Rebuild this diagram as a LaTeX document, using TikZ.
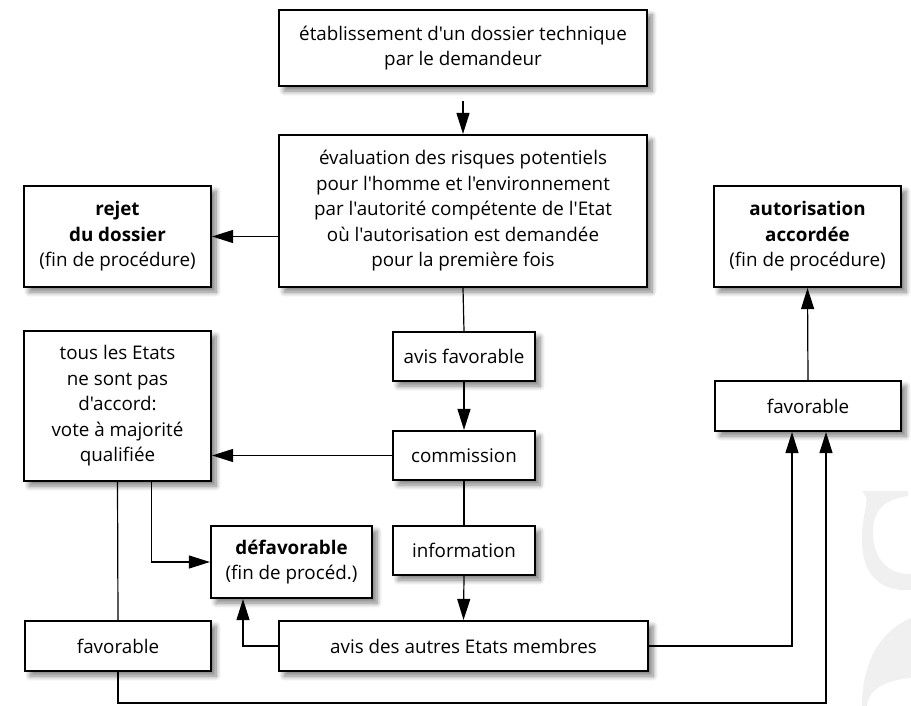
\documentclass[tikz,border=0pt]{standalone}
\usepackage{fontspec}
\setmainfont{Open Sans}[Ligatures=TeXOff]
\usetikzlibrary{arrows.meta,shadows,shadows.blur,calc}
\begin{document}
\begin{tikzpicture}[x=1pt,y=-1pt,
  box/.style={draw, line width=2.2pt, fill=white, align=center, inner sep=2pt,
    blur shadow={shadow xshift=5pt, shadow yshift=-5pt, shadow blur steps=8, shadow blur radius=5pt, shadow opacity=50},
    font=\fontsize{18.8}{25.5}\selectfont},
  conn/.style={line width=1.2pt},
  arr/.style={conn, -{Triangle[length=21pt,width=13pt]}},
  wm/.style={fill=black!6, draw=none}]
\useasboundingbox (0,0) rectangle (911,706);
% watermark
\fill[wm] (862,491) -- (908,491) -- (908,496) .. controls (890,499) and (874,505) .. (873,530)
  .. controls (872,560) and (890,575) .. (911,574) -- (911,590)
  .. controls (880,592) and (862,575) .. (862,540) .. controls (862,515) and (868,505) .. (866,497) -- cycle;
\fill[wm] (862,706) .. controls (862,660) and (882,630) .. (911,618) -- (911,678)
  .. controls (885,680) and (868,690) .. (867,706) -- cycle;
% boxes
\node[box, minimum width=368, minimum height=76] (top) at (463,48)
  {établissement d'un dossier technique\\par le demandeur};
\node[box, minimum width=368, minimum height=152] (mid) at (463,211)
  {évaluation des risques potentiels\\pour l'homme et l'environnement\\par l'autorité compétente de l'Etat\\où l'autorisation est demandée\\pour la première fois};
\node[box, minimum width=187, minimum height=101] (rejet) at (117.5,236.5)
  {\textbf{rejet}\\\textbf{du dossier}\\(fin de procédure)};
\node[box, minimum width=187, minimum height=101] (autor) at (807.5,236.5)
  {\textbf{autorisation}\\\textbf{accordée}\\(fin de procédure)};
\node[box, minimum width=187, minimum height=150] (tous) at (117.5,406)
  {tous les Etats\\ne sont pas\\d'accord:\\vote à majorité\\qualifiée};
\node[box, minimum width=142, minimum height=49] (avisfav) at (464,356.5) {avis favorable};
\node[box, minimum width=142, minimum height=49] (comm) at (464,455.5) {commission};
\node[box, minimum width=142, minimum height=49] (info) at (464,550.5) {information};
\node[box, minimum width=369, minimum height=50] (autres) at (463.5,646) {avis des autres Etats membres};
\node[box, minimum width=161, minimum height=72] (defav) at (291.5,562)
  {\textbf{défavorable}\\(fin de procéd.)};
\node[box, minimum width=186, minimum height=50] (favL) at (118,646) {favorable};
\node[box, minimum width=186, minimum height=50] (favR) at (808,406) {favorable};
% connectors
\draw[arr, shorten <=14pt] (top.south) -- (mid.north);
\draw[arr] (mid.west |- rejet.east) -- (rejet.east);
\draw[conn] (mid.south) -- (avisfav.north);
\draw[arr] (avisfav.south) -- (comm.north);
\draw[arr] (comm.west) -- (comm.west -| tous.east);
\draw[conn] (comm.south) -- (info.north);
\draw[arr] (info.south) -- (autres.north);
\draw[conn] (tous.south) -- (favL.north);
\draw[arr] ([xshift=34pt]tous.south) |- (defav.west);
\draw[arr] (autres.west) -| ([xshift=-48.5pt]defav.south);
\draw[arr] (autres.east) -| ([xshift=-16pt]favR.south);
\coordinate (bend) at (118,703);
\draw[arr] (favL.south) -- (bend) -| ([xshift=18pt]favR.south);
\draw[arr] (favR.north) -- (autor.south);
\end{tikzpicture}
\end{document}
